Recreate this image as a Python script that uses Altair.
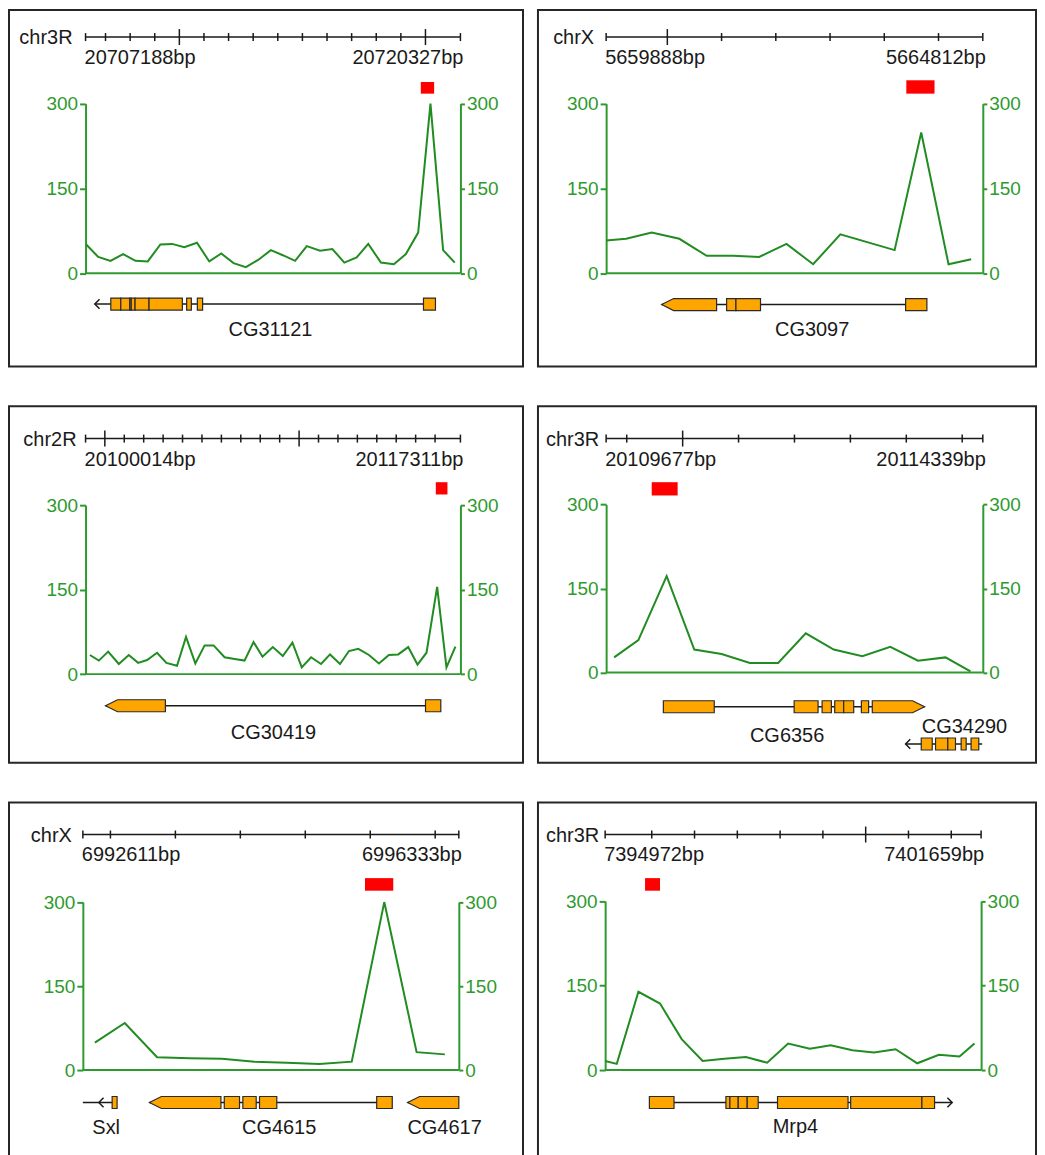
import altair as alt
import pandas as pd

FONT = "Liberation Sans"
INK = "#1a1a1a"
EDGE = "#2a2a2a"
GREEN = "#2e9a2e"
LINE_GREEN = "#218c21"
ORANGE = "#FFA500"
RED = "#FF0000"

# ---------------- Panel 1 : chr3R ----------------
P1_CHR = "chr3R"
P1_RANGE = [20707188, 20720327]
P1_POS = [20707211, 20707631, 20708062, 20708505, 20708937, 20709368, 20709811, 20710219,
          20710650, 20711093, 20711525, 20711944, 20712376, 20712807, 20713250, 20713682,
          20714101, 20714533, 20714941, 20715407, 20715838, 20716258, 20716689, 20717097,
          20717540, 20717995, 20718415, 20718846, 20719277, 20719720, 20720128]
P1_VAL = [51, 29, 22, 34, 22, 21, 51, 52, 46, 54, 21, 35, 18, 11, 24, 41, 32, 22, 48, 40,
          43, 19, 28, 52, 19, 16, 34, 72, 300, 41, 19]
P1_PEAK = [20718939, 20719406]
P1_TICKS = [20707888, 862.6, 14, [3, 13]]
P1_GENES = [
    dict(name="CG31121", label=20713670, line=[20707513, 20719452],
         exons=[[20708073, 20708423], [20708423, 20708738], [20708738, 20708790],
                [20708790, 20708923], [20708923, 20709413], [20709413, 20710581],
                [20710731, 20710896], [20711106, 20711291], [20719032, 20719452]],
         tips=[], arrows=[[20707513, "left"]], track=0),
]

# ---------------- Panel 2 : chrX ----------------
P2_CHR = "chrX"
P2_RANGE = [5659888, 5664812]
P2_POS = [5659888, 5660149, 5660484, 5660845, 5661202, 5661550, 5661889, 5662246,
          5662594, 5662950, 5663659, 5664007, 5664364, 5664660]
P2_VAL = [58, 61, 72, 61, 31, 31, 29, 52, 16, 69, 41, 249, 16, 25]
P2_PEAK = [5663812, 5664181]
P2_TICKS = [5660688, 709, 6, [0]]
P2_GENES = [
    dict(name="CG3097", label=5662581, line=[5660614, 5664081],
         exons=[[5661463, 5661585], [5661585, 5661906], [5663803, 5664081]],
         tips=[[5660614, 5661332]], arrows=[], track=0),
]

# ---------------- Panel 3 : chr2R ----------------
P3_CHR = "chr2R"
P3_RANGE = [20100014, 20117311]
P3_POS = [20100214, 20100628, 20101058, 20101549, 20102009, 20102439, 20102853, 20103314,
          20103744, 20104235, 20104649, 20105079, 20105509, 20105923, 20106429, 20106890,
          20107350, 20107765, 20108179, 20108655, 20109115, 20109560, 20109990, 20110420,
          20110880, 20111295, 20111755, 20112170, 20112599, 20113090, 20113551, 20114011,
          20114441, 20114902, 20115331, 20115746, 20116237, 20116667, 20117081]
P3_VAL = [34, 24, 40, 18, 34, 20, 25, 38, 20, 15, 66, 19, 51, 51, 30, 27, 24, 57, 31, 48,
          32, 56, 12, 30, 18, 35, 18, 41, 45, 34, 19, 34, 35, 48, 17, 38, 155, 12, 49]
P3_PEAK = [20116175, 20116713]
P3_TICKS = [20100904, 896.3, 18, [0, 10]]
P3_GENES = [
    dict(name="CG30419", label=20108686, line=[20100935, 20116406],
         exons=[[20115700, 20116406]], tips=[[20100935, 20103698]], arrows=[], track=0),
]

# ---------------- Panel 4 : chr3R ----------------
P4_CHR = "chr3R"
P4_RANGE = [20109677, 20114339]
P4_POS = [20109776, 20110076, 20110426, 20110768, 20111106, 20111456, 20111806, 20112148,
          20112494, 20112848, 20113194, 20113536, 20113877, 20114186]
P4_VAL = [27, 58, 172, 41, 33, 17, 17, 70, 41, 29, 46, 21, 27, 2]
P4_PEAK = [20110241, 20110562]
P4_TICKS = [20109932, 692, 7, [1]]
P4_GENES = [
    dict(name="CG6356", label=20111917, line=[20110385, 20113618],
         exons=[[20110385, 20111015], [20112004, 20112300], [20112350, 20112465],
                [20112506, 20112617], [20112617, 20112741], [20112836, 20112926]],
         tips=[[20113618, 20112971]], arrows=[], track=0),
    dict(name="CG34290", label=20114112, line=[20113383, 20114330],
         exons=[[20113577, 20113713], [20113754, 20113906], [20113906, 20114001],
                [20114071, 20114133], [20114194, 20114289]],
         tips=[], arrows=[[20113383, "left"]], track=1),
]

# ---------------- Panel 5 : chrX ----------------
P5_CHR = "chrX"
P5_RANGE = [6992611, 6996333]
P5_POS = [6992730, 6993026, 6993346, 6993668, 6993988, 6994311, 6994630, 6994953,
          6995273, 6995595, 6995915, 6996195]
P5_VAL = [49, 84, 23, 21, 20, 15, 13, 11, 15, 300, 32, 28]
P5_PEAK = [6995404, 6995684]
P5_TICKS = [6992884, 643, 6, []]
P5_GENES = [
    dict(name="Sxl", label=6992842, line=[6992611, 6992950],
         exons=[[6992901, 6992950]], tips=[], arrows=[[6992769, "left"]], track=0),
    dict(name="CG4615", label=6994554, line=[6993270, 6995674],
         exons=[[6994011, 6994162], [6994195, 6994327], [6994360, 6994531], [6995520, 6995674]],
         tips=[[6993270, 6993978]], arrows=[], track=0),
    dict(name="CG4617", label=6996192, line=[6995826, 6996333],
         exons=[], tips=[[6995826, 6996333]], arrows=[], track=0),
]

# ---------------- Panel 6 : chr3R ----------------
P6_CHR = "chr3R"
P6_RANGE = [7394972, 7401659]
P6_POS = [7394972, 7395179, 7395564, 7395948, 7396333, 7396706, 7397091, 7397475,
          7397854, 7398227, 7398612, 7398984, 7399369, 7399754, 7400138, 7400523,
          7400908, 7401275, 7401541]
P6_VAL = [16, 11, 139, 118, 55, 16, 20, 23, 13, 47, 38, 44, 35, 31, 37, 12, 27, 24, 47]
P6_PEAK = [7395682, 7395948]
P6_TICKS = [7395801, 761, 8, [5]]
P6_GENES = [
    dict(name="Mrp4", label=7398357, line=[7395759, 7401144],
         exons=[[7395759, 7396197], [7397120, 7397191], [7397191, 7397339], [7397339, 7397499],
                [7397499, 7397694], [7398038, 7399292], [7399339, 7400606], [7400606, 7400831]],
         tips=[], arrows=[[7401144, "right"]], track=0),
]

# ---------------- layout (pixels inside each panel box) ----------------
RW = 499  # right-column panel width (keeps the whole figure inside the page)
L1 = dict(w=515, h=357, pl=76.7, pr=452.3, t=93.7, b=263.7, ry=27, gap=13, rt=72, rb=83.7, gc=294.5, lab=327)
L2 = dict(w=RW, h=357, pl=68.3, pr=445.7, t=93.7, b=263.7, ry=27, gap=12, rt=70.3, rb=83.7, gc=295, lab=327)
L3 = dict(w=515, h=357, pl=76.7, pr=452.3, t=99, b=268.3, ry=32.3, gap=9, rt=76, rb=88.3, gc=300, lab=333.3)
L4 = dict(w=RW, h=357, pl=68.3, pr=445.7, t=98.3, b=266.7, ry=32.3, gap=7, rt=76, rb=89.3, gc=301, lab=336,
          gc2=338.3, lab2=327.3)
L5 = dict(w=515, h=357, pl=74, pr=450.7, t=99.7, b=268, ry=32, gap=11, rt=75.7, rb=88.3, gc=300.5, lab=332)
L6 = dict(w=RW, h=357, pl=67.3, pr=444, t=98.7, b=268, ry=32, gap=6, rt=75.7, rb=88.3, gc=300.5, lab=331)

LEFT_CHEVRON = "M 1 -1 L 0 0 L 1 1"
RIGHT_CHEVRON = "M -1 -1 L 0 0 L -1 1"


def make_panel(chrom, rng, pos, val, peak, ticks, genes, lay):
    S, E = rng
    pl, pr, t, b, ry, w, h = lay["pl"], lay["pr"], lay["t"], lay["b"], lay["ry"], lay["w"], lay["h"]
    xs = alt.Scale(domain=[S, E], range=[pl, pr], zero=False, nice=False)

    def X(f):
        return alt.X(f"{f}:Q", scale=xs, axis=None)

    region = pd.DataFrame({"s": [S], "e": [E], "chr": [chrom], "ls": [f"{S}bp"], "le": [f"{E}bp"]})
    tick0, step, n, majors = ticks
    all_ticks = [tick0 + i * step for i in range(n)]
    minor = pd.DataFrame({"x": [S, E] + [v for i, v in enumerate(all_ticks) if i not in majors]})
    major = pd.DataFrame({"x": [v for i, v in enumerate(all_ticks) if i in majors]})

    layers = []
    # ruler
    layers.append(alt.Chart(region).mark_rule(color=INK, strokeWidth=1.5).encode(
        x=X("s"), x2="e", y=alt.value(ry)))
    layers.append(alt.Chart(minor).mark_rule(color=INK, strokeWidth=1.5).encode(
        x=X("x"), y=alt.value(ry - 4), y2=alt.value(ry + 4)))
    if len(major):
        layers.append(alt.Chart(major).mark_rule(color=INK, strokeWidth=1.5).encode(
            x=X("x"), y=alt.value(ry - 8), y2=alt.value(ry + 8)))
    txt = dict(font=FONT, fontSize=20, color=INK, baseline="alphabetic")
    layers.append(alt.Chart(region).mark_text(align="right", dx=-lay["gap"], **txt).encode(
        x=X("s"), y=alt.value(ry + 7), text="chr:N"))
    layers.append(alt.Chart(region).mark_text(align="left", dx=-1, **txt).encode(
        x=X("s"), y=alt.value(ry + 27), text="ls:N"))
    layers.append(alt.Chart(region).mark_text(align="right", dx=3, **txt).encode(
        x=X("e"), y=alt.value(ry + 27), text="le:N"))

    # peak
    peak_df = pd.DataFrame({"s": [peak[0]], "e": [peak[1]]})
    layers.append(alt.Chart(peak_df).mark_rect(color=RED).encode(
        x=X("s"), x2="e", y=alt.value(lay["rt"]), y2=alt.value(lay["rb"])))

    # signal track
    df = pd.DataFrame({"pos": pos, "val": val})
    ys = alt.Scale(domain=[0, 300], range=[b, t], zero=False, nice=False)
    ax = dict(values=[0, 150, 300], grid=False, title=None, domainColor=GREEN, domainWidth=2,
              tickColor=GREEN, tickWidth=2, labelColor=GREEN, labelFont=FONT, labelFontSize=19,
              labelPadding=2)
    layers.append(alt.Chart(region).mark_rule(color=GREEN, strokeWidth=2).encode(
        x=X("s"), x2="e", y=alt.value(b)))
    layers.append(alt.Chart(df).mark_line(color=LINE_GREEN, strokeWidth=2).encode(
        x=X("pos"),
        y=alt.Y("val:Q", scale=ys, axis=alt.Axis(orient="left", offset=-pl, tickSize=6, **ax))))
    layers.append(alt.Chart(df).mark_line(color=LINE_GREEN, strokeOpacity=0).encode(
        x=X("pos"),
        y=alt.Y("val:Q", scale=ys, axis=alt.Axis(orient="right", offset=pr - w, tickSize=4, **ax))))

    # genes
    tip_len = 12 * (E - S) / (pr - pl)
    for track in (0, 1):
        tg = [g for g in genes if g["track"] == track]
        if not tg:
            continue
        gc = lay["gc"] if track == 0 else lay["gc2"]
        ly = lay["lab"] if track == 0 else lay["lab2"]
        intr = pd.DataFrame({"s": [g["line"][0] for g in tg], "e": [g["line"][1] for g in tg]})
        layers.append(alt.Chart(intr).mark_rule(color=INK, strokeWidth=1.5).encode(
            x=X("s"), x2="e", y=alt.value(gc)))
        ex = [e for g in tg for e in g["exons"]]
        if ex:
            exdf = pd.DataFrame({"s": [e[0] for e in ex], "e": [e[1] for e in ex]})
            layers.append(alt.Chart(exdf).mark_rect(fill=ORANGE, stroke=EDGE, strokeWidth=1.2).encode(
                x=X("s"), x2="e", y=alt.value(gc - 6), y2=alt.value(gc + 6)))
        rows = []
        k = 0
        for g in tg:
            for tip, end in g["tips"]:
                if tip < end:
                    pts = [(tip, 0, 0), (tip + tip_len, -1, 1), (end, -1, 1)]
                else:
                    pts = [(end, -1, 1), (tip - tip_len, -1, 1), (tip, 0, 0)]
                for x, lo, hi in pts:
                    rows.append({"id": k, "x": x, "lo": lo, "hi": hi})
                k += 1
        if rows:
            gs = alt.Scale(domain=[-1, 1], range=[gc + 6, gc - 6], zero=False, nice=False)
            layers.append(alt.Chart(pd.DataFrame(rows)).mark_area(
                fill=ORANGE, stroke=EDGE, strokeWidth=1.2, interpolate="linear", opacity=1).encode(
                x=X("x"), y=alt.Y("hi:Q", scale=gs, axis=None), y2="lo:Q", detail="id:N"))
        for direction, path in (("left", LEFT_CHEVRON), ("right", RIGHT_CHEVRON)):
            arr = [a[0] for g in tg for a in g["arrows"] if a[1] == direction]
            if arr:
                layers.append(alt.Chart(pd.DataFrame({"x": arr})).mark_point(
                    shape=path, filled=False, color=INK, strokeWidth=1.5, size=90, opacity=1).encode(
                    x=X("x"), y=alt.value(gc)))
        labs = pd.DataFrame({"x": [g["label"] for g in tg], "name": [g["name"] for g in tg]})
        layers.append(alt.Chart(labs).mark_text(align="center", **txt).encode(
            x=X("x"), y=alt.value(ly), text="name:N"))

    return alt.layer(*layers).resolve_scale(y="independent").properties(width=w, height=h)


p1 = make_panel(P1_CHR, P1_RANGE, P1_POS, P1_VAL, P1_PEAK, P1_TICKS, P1_GENES, L1)
p2 = make_panel(P2_CHR, P2_RANGE, P2_POS, P2_VAL, P2_PEAK, P2_TICKS, P2_GENES, L2)
p3 = make_panel(P3_CHR, P3_RANGE, P3_POS, P3_VAL, P3_PEAK, P3_TICKS, P3_GENES, L3)
p4 = make_panel(P4_CHR, P4_RANGE, P4_POS, P4_VAL, P4_PEAK, P4_TICKS, P4_GENES, L4)
p5 = make_panel(P5_CHR, P5_RANGE, P5_POS, P5_VAL, P5_PEAK, P5_TICKS, P5_GENES, L5)
p6 = make_panel(P6_CHR, P6_RANGE, P6_POS, P6_VAL, P6_PEAK, P6_TICKS, P6_GENES, L6)

chart = alt.vconcat(
    alt.hconcat(p1, p2, spacing=13),
    alt.hconcat(p3, p4, spacing=13),
    alt.hconcat(p5, p6, spacing=13),
    spacing=38,
).properties(padding=0, background="white").configure_view(stroke="#262626", strokeWidth=2)

chart.save("out.html", embed_options={"renderer": "svg", "actions": False})
